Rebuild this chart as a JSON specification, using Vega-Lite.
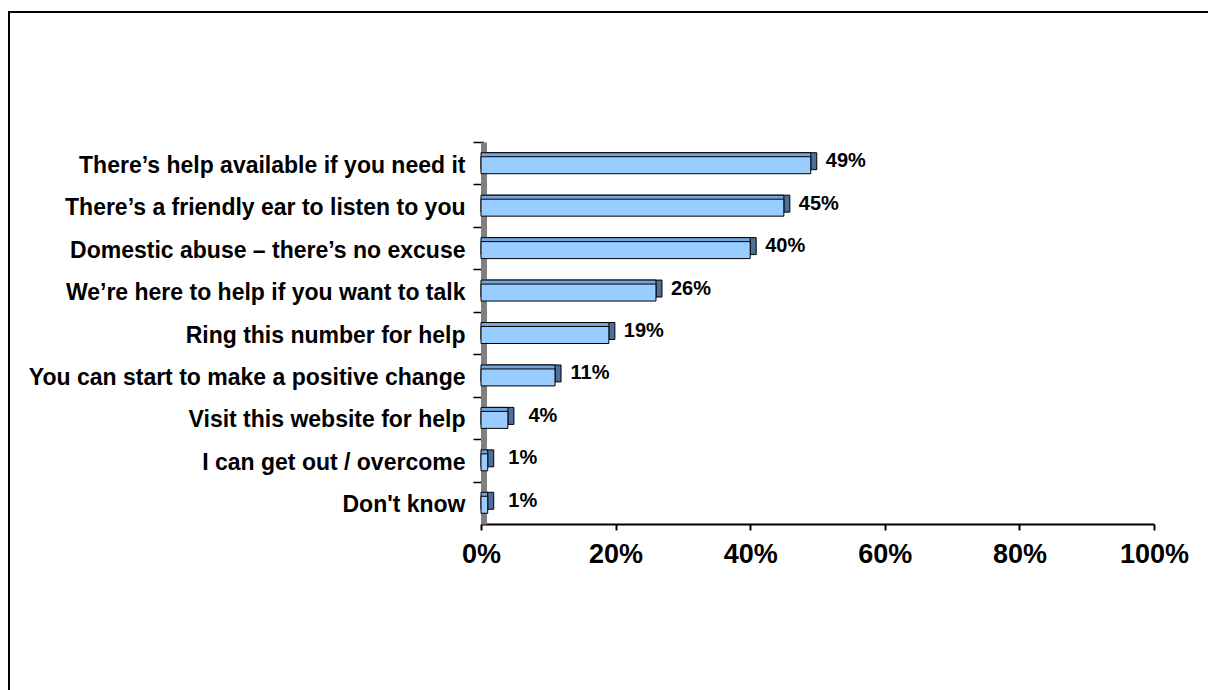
{
  "$schema": "https://vega.github.io/schema/vega-lite/v6.json",
  "autosize": {"type": "none"},
  "padding": {"left": 9, "top": 12, "right": 0, "bottom": 0},
  "width": 1199,
  "height": 678,
  "background": "white",
  "config": {
    "view": {"stroke": "black", "strokeWidth": 2, "strokeDash": [1199, 1877, 700, 50]},
    "font": "Liberation Sans"
  },
  "data": {
    "values": [
      {"label": "There’s help available if you need it\u00a0", "value": 0.49},
      {"label": "There’s a friendly ear to listen to you", "value": 0.45},
      {"label": "Domestic abuse – there’s no excuse", "value": 0.40},
      {"label": "We’re here to help if you want to talk\u00a0", "value": 0.26},
      {"label": "Ring this number for help", "value": 0.19},
      {"label": "You can start to make a positive change", "value": 0.11},
      {"label": "Visit this website for help", "value": 0.04},
      {"label": "I can get out / overcome", "value": 0.01},
      {"label": "Don't know", "value": 0.01}
    ]
  },
  "encoding": {
    "y": {
      "field": "label",
      "type": "nominal",
      "sort": null,
      "scale": {"range": [130, 512], "paddingInner": 0.6, "paddingOuter": 0.3},
      "axis": {
        "title": null,
        "orient": "left",
        "offset": -474.5,
        "domainColor": "#808080",
        "domainWidth": 6,
        "tickColor": "black",
        "tickWidth": 1.5,
        "tickSize": 10.5,
        "tickOffset": -21.2,
        "labelFont": "Liberation Sans",
        "labelFontSize": 23,
        "labelFontWeight": "bold",
        "labelColor": "black",
        "labelPadding": 8,
        "labelOffset": 23.2,
        "labelLimit": 600,
        "grid": false
      }
    },
    "x": {
      "field": "value",
      "type": "quantitative",
      "scale": {"domain": [0, 1], "range": [472, 1145], "nice": false, "zero": true},
      "axis": {
        "title": null,
        "orient": "bottom",
        "offset": -166,
        "format": ".0%",
        "values": [0, 0.2, 0.4, 0.6, 0.8, 1],
        "domainColor": "black",
        "domainWidth": 2,
        "tickColor": "black",
        "tickWidth": 2,
        "tickSize": 6,
        "labelFont": "Liberation Sans",
        "labelFontSize": 27,
        "labelFontWeight": "bold",
        "labelColor": "black",
        "labelPadding": 11,
        "labelFlush": false,
        "grid": false
      }
    }
  },
  "layer": [
    {
      "mark": {"type": "bar", "fill": "#4d6f99", "stroke": "black", "strokeWidth": 1, "xOffset": 6, "x2Offset": 6, "yOffset": -2}
    },
    {
      "mark": {"type": "bar", "fill": "#74a6de", "stroke": "black", "strokeWidth": 1, "xOffset": 0, "x2Offset": 6, "yOffset": -2}
    },
    {
      "mark": {"type": "bar", "fill": "#99ccff", "stroke": "black", "strokeWidth": 1, "yOffset": 2}
    },
    {
      "mark": {"type": "text", "align": "center", "baseline": "middle", "dx": 35, "dy": -2, "fontSize": 20, "fontWeight": "bold", "color": "black", "font": "Liberation Sans"},
      "encoding": {"text": {"field": "value", "type": "quantitative", "format": ".0%"}}
    }
  ]
}
